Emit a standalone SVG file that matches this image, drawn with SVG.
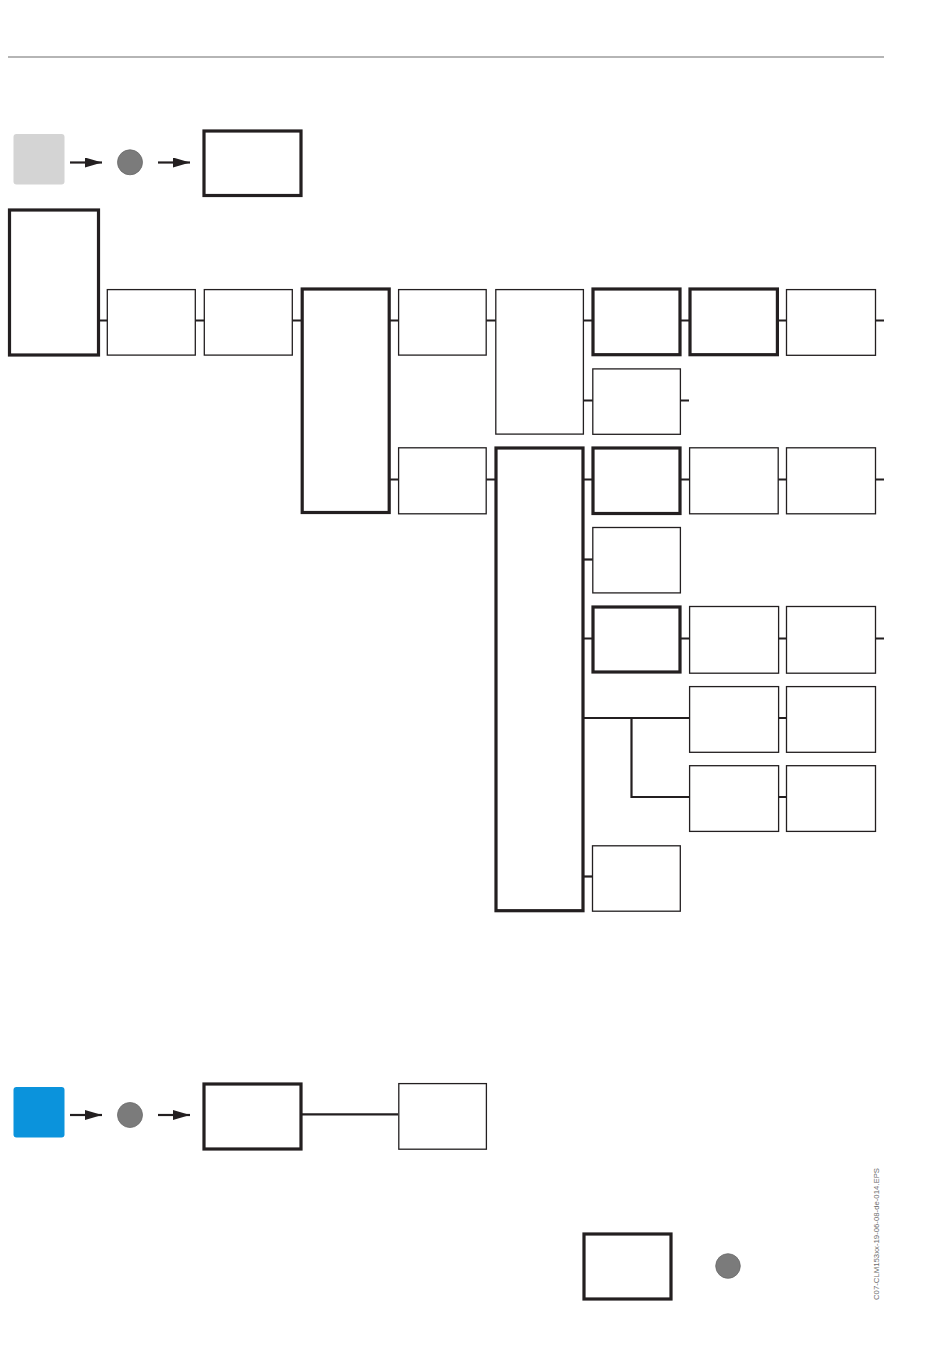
<svg xmlns="http://www.w3.org/2000/svg" width="950" height="1370" viewBox="0 0 950 1370">
<defs>
<style>
.thin{fill:#fff;stroke:#231f20;stroke-width:1.3}
.thick{fill:#fff;stroke:#231f20;stroke-width:3.2}
.con{fill:none;stroke:#231f20;stroke-width:2.2}
.arr{fill:none;stroke:#231f20;stroke-width:2.2}
.dot{fill:#7b7b7b;stroke:#6a6a6a;stroke-width:0.8}
.lbl{font-family:"Liberation Sans",Arial,sans-serif;font-size:7.5px;fill:#6d6d6d}
</style>
<marker id="ah" viewBox="0 0 10 10" refX="10" refY="5" markerWidth="17" markerHeight="10" markerUnits="userSpaceOnUse" orient="auto" preserveAspectRatio="none">
<path d="M0,0 L10,5 L0,10 Z" fill="#231f20"/>
</marker>
</defs>
<rect width="950" height="1370" fill="#fff"/>
<line x1="8" y1="57" x2="884" y2="57" stroke="#6d6d6d" stroke-width="1.2"/>

<g id="connectors">
<line class="arr" x1="70" y1="162.5" x2="102" y2="162.5" marker-end="url(#ah)"/>
<line class="arr" x1="158" y1="162.5" x2="190" y2="162.5" marker-end="url(#ah)"/>
<line class="arr" x1="70" y1="1115" x2="102" y2="1115" marker-end="url(#ah)"/>
<line class="arr" x1="158" y1="1115" x2="190" y2="1115" marker-end="url(#ah)"/>
<path class="con" d="M98,320.5H108 M195,320.5H205 M292,320.5H302 M389,320.5H399 M486,320.5H496 M583,320.5H593 M680,320.5H690 M777,320.5H787 M875,320.5H884"/>
<path class="con" d="M583,400.5H593 M680,400.5H689"/>
<path class="con" d="M389,479.5H399 M486,479.5H496 M583,479.5H593 M680,479.5H690 M777,479.5H787 M875,479.5H884"/>
<path class="con" d="M583,559.5H593"/>
<path class="con" d="M583,638.5H593 M680,638.5H690 M777,638.5H787 M875,638.5H884"/>
<path class="con" d="M583,718H689 M631.5,718V797H689 M777,718H787 M777,797H787"/>
<path class="con" d="M583,876.5H593"/>
<path class="con" d="M301,1114.3H398"/>
</g>

<g id="n-start-grey"><rect x="13.5" y="134" width="51" height="50.5" rx="3" fill="#d4d4d4"/></g>
<g id="n-dot1"><circle class="dot" cx="130" cy="162.3" r="12.5"/></g>
<g id="n-top"><rect class="thick" x="204" y="131" width="97" height="64.5"/></g>
<g id="n-left"><rect class="thick" x="9.5" y="210" width="89" height="145"/></g>
<g id="n-a1"><rect class="thin" x="107.3" y="289.6" width="88" height="65.5"/></g>
<g id="n-a2"><rect class="thin" x="204.3" y="289.6" width="88" height="65.5"/></g>
<g id="n-a3"><rect class="thick" x="302.2" y="289" width="87" height="223.5"/></g>
<g id="n-b1"><rect class="thin" x="398.6" y="289.6" width="87.6" height="65.5"/></g>
<g id="n-b2"><rect class="thin" x="398.6" y="447.8" width="87.6" height="66"/></g>
<g id="n-c1"><rect class="thin" x="495.8" y="289.6" width="87.6" height="144.5"/></g>
<g id="n-c2"><rect class="thick" x="496" y="448" width="87" height="462.7"/></g>
<g id="n-d1"><rect class="thick" x="593" y="289" width="87" height="65.7"/></g>
<g id="n-d2"><rect class="thin" x="592.8" y="368.9" width="87.6" height="65.4"/></g>
<g id="n-d3"><rect class="thick" x="593" y="448" width="87" height="65.5"/></g>
<g id="n-d4"><rect class="thin" x="592.8" y="527.5" width="87.6" height="65.4"/></g>
<g id="n-d5"><rect class="thick" x="593" y="607" width="87" height="65"/></g>
<g id="n-d6"><rect class="thin" x="592.5" y="845.8" width="87.8" height="65.4"/></g>
<g id="n-e1"><rect class="thick" x="690" y="289" width="87.4" height="65.7"/></g>
<g id="n-e2"><rect class="thin" x="689.6" y="447.8" width="88.6" height="66"/></g>
<g id="n-e3"><rect class="thin" x="689.6" y="606.5" width="89" height="66.7"/></g>
<g id="n-e4"><rect class="thin" x="689.6" y="686.6" width="89" height="65.7"/></g>
<g id="n-e5"><rect class="thin" x="689.6" y="765.7" width="89" height="65.7"/></g>
<g id="n-f1"><rect class="thin" x="786.5" y="289.6" width="89" height="65.7"/></g>
<g id="n-f2"><rect class="thin" x="786.5" y="447.8" width="89" height="66"/></g>
<g id="n-f3"><rect class="thin" x="786.5" y="606.5" width="89" height="66.7"/></g>
<g id="n-f4"><rect class="thin" x="786.5" y="686.6" width="89" height="65.7"/></g>
<g id="n-f5"><rect class="thin" x="786.5" y="765.7" width="89" height="65.7"/></g>

<g id="n-start-blue"><rect x="13.5" y="1087" width="51" height="50.5" rx="3" fill="#0b93dc"/></g>
<g id="n-dot2"><circle class="dot" cx="130" cy="1115" r="12.5"/></g>
<g id="n-bottom1"><rect class="thick" x="204" y="1084" width="97" height="65"/></g>
<g id="n-bottom2"><rect class="thin" x="398.8" y="1083.6" width="87.6" height="65.6"/></g>
<g id="n-legend-box"><rect class="thick" x="584" y="1234" width="87" height="65"/></g>
<g id="n-legend-dot"><circle class="dot" cx="728" cy="1266" r="12.3"/></g>

<text class="lbl" transform="translate(879,1300) rotate(-90)" textLength="132" lengthAdjust="spacingAndGlyphs">C07-CLM153xx-19-06-08-de-014.EPS</text>
</svg>
